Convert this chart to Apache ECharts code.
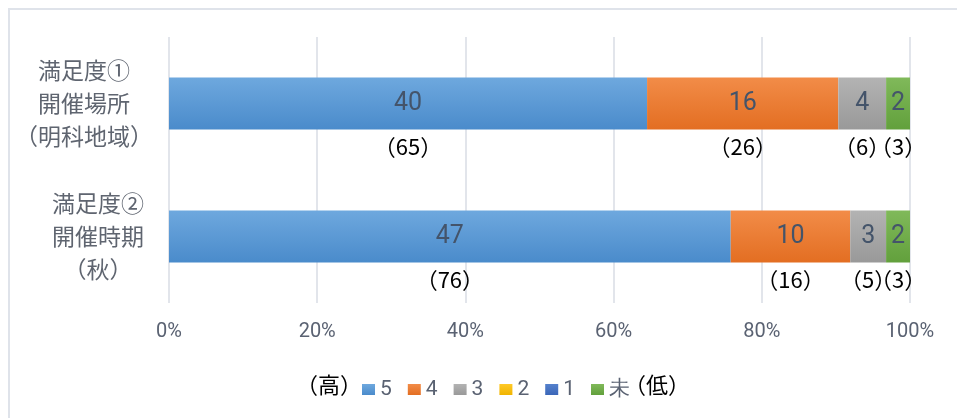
<!DOCTYPE html>
<html><head><meta charset="utf-8">
<script src="https://cdn.jsdelivr.net/npm/echarts@6/dist/echarts.min.js"></script>
<style>html,body{margin:0;padding:0;background:#fff}#c{width:957px;height:418px}</style>
</head><body><div id="c"></div>
<script>
// ---- data ----
const categories = ['満足度①\n開催場所\n（明科地域）', '満足度②\n開催時期\n（秋）'];
const seriesNames = ['5', '4', '3', '2', '1', '未'];
const counts5 = [40, 47];
const counts4 = [16, 10];
const counts3 = [4, 3];
const counts2 = [0, 0];
const counts1 = [0, 0];
const countsNA = [2, 2];
const xTickLabels = ['0%', '20%', '40%', '60%', '80%', '100%'];
const legendLeftText = '（高）';
const legendRightText = '（低）';

// ---- styles ----
const topColors = ['#6EA8DE', '#F28C48', '#B3B3B3', '#FFC928', '#5581CC', '#80B95A'];
const botColors = ['#4A8BCB', '#E36E22', '#999999', '#F0B400', '#3A66B8', '#62A03C'];
const labelBoxWidths = [144, 116];
const cjk = '"Noto Sans CJK JP", sans-serif';
const latin = 'Roboto, "Noto Sans", sans-serif';

const allCounts = [counts5, counts4, counts3, counts2, counts1, countsNA];
const totals = categories.map((_, i) => allCounts.reduce((s, a) => s + a[i], 0));
const pct = allCounts.map(arr => arr.map((v, i) => v / totals[i] * 100));

const series = [];
allCounts.forEach((arr, k) => {
  series.push({
    name: seriesNames[k], type: 'bar', stack: 'a', barWidth: 52,
    data: pct[k],
    itemStyle: {
      color: new echarts.graphic.LinearGradient(0, 0, 0, 1, [
        { offset: 0, color: topColors[k] }, { offset: 1, color: botColors[k] }
      ])
    },
    label: {
      show: true, position: 'inside',
      formatter: p => arr[p.dataIndex] ? String(arr[p.dataIndex]) : '',
      fontFamily: latin, fontSize: 25, color: '#44546A', textBorderWidth: 0
    },
    emphasis: { disabled: true }
  });
});
allCounts.forEach((arr, k) => {
  series.push({
    name: 'p' + seriesNames[k], type: 'bar', stack: 'p', barWidth: 52, barGap: '-100%',
    data: pct[k],
    itemStyle: { color: 'rgba(0,0,0,0)' },
    label: {
      show: true, position: 'bottom', distance: 6,
      formatter: p => arr[p.dataIndex] ? '（' + Math.round(pct[k][p.dataIndex]) + '）' : '',
      fontFamily: cjk, fontSize: 22, color: '#000'
    },
    silent: true,
    emphasis: { disabled: true }
  });
});

const chart = echarts.init(document.getElementById('c'));
chart.setOption({
  animation: false,
  grid: { left: 169, right: 47, top: 37, bottom: 115, containLabel: false },
  xAxis: {
    type: 'value', min: 0, max: 100, interval: 20,
    axisLine: { show: false }, axisTick: { show: false },
    splitLine: { show: true, lineStyle: { color: '#D9DDE4', width: 1.5 } },
    axisLabel: {
      margin: 19, fontFamily: latin, fontSize: 20, color: '#5A6272',
      formatter: v => xTickLabels[Math.round(v / 20)]
    }
  },
  yAxis: {
    type: 'category', inverse: true, data: categories,
    axisLine: { show: false }, axisTick: { show: false }, splitLine: { show: false },
    axisLabel: {
      margin: 13, align: 'right',
      formatter: (v, i) => v.split('\n').map(l => '{w' + i + '|' + l + '}').join('\n'),
      rich: {
        w0: { width: labelBoxWidths[0], align: 'center', fontFamily: cjk, fontSize: 23, color: '#5F6570', lineHeight: 33 },
        w1: { width: labelBoxWidths[1], align: 'center', fontFamily: cjk, fontSize: 23, color: '#5F6570', lineHeight: 33 }
      }
    }
  },
  legend: {
    data: seriesNames, left: 357, top: 374, icon: 'rect', itemWidth: 13, itemHeight: 11, itemGap: 16,
    textStyle: { fontFamily: latin, fontSize: 21, color: '#5A6272' },
    selectedMode: false
  },
  graphic: [
    { type: 'rect', shape: { x: 9, y: 9, width: 1000, height: 500 }, style: { fill: 'none', stroke: '#DFE3EA', lineWidth: 2 }, silent: true, z: -10 },
    { type: 'text', x: 362, y: 385, style: { text: legendLeftText, font: '22px ' + cjk, fill: '#000', textAlign: 'right', textVerticalAlign: 'middle' } },
    { type: 'text', x: 624, y: 385, style: { text: legendRightText, font: '22px ' + cjk, fill: '#000', textAlign: 'left', textVerticalAlign: 'middle' } }
  ],
  series: series
});
</script></body></html>
